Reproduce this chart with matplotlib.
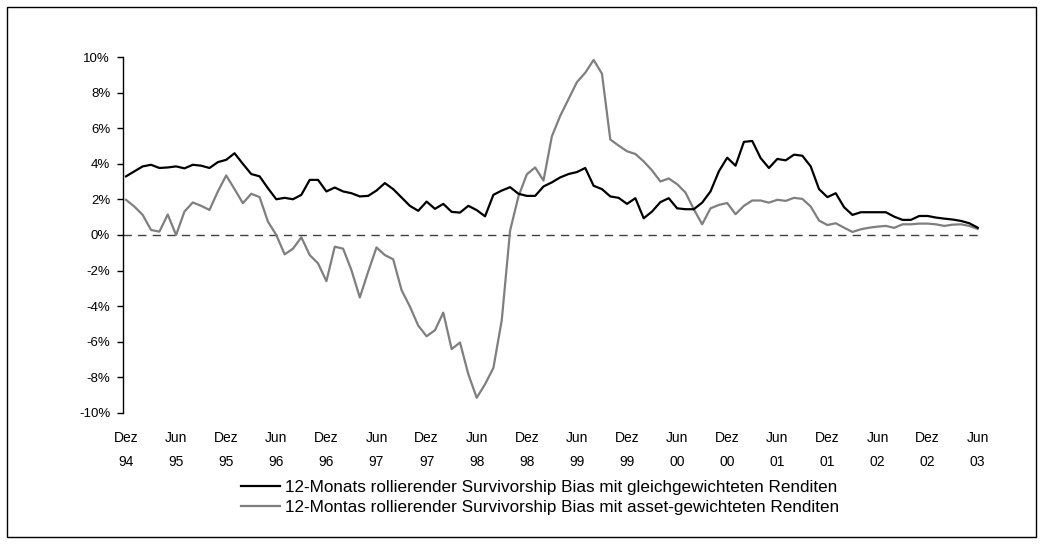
import matplotlib
matplotlib.use("Agg")
import matplotlib.pyplot as plt
from matplotlib.patches import Rectangle
from matplotlib.ticker import FuncFormatter, MultipleLocator

plt.rcParams['font.family'] = ['Liberation Sans', 'DejaVu Sans']

# monthly values, Dez 94 ... Jun 03 (in %)
gleich = [3.30, 3.58, 3.86, 3.95, 3.77, 3.80, 3.86, 3.75, 3.95, 3.90, 3.77, 4.10, 4.23, 4.60, 4.00,
          3.43, 3.30, 2.63, 2.01, 2.09, 2.01, 2.26, 3.10, 3.10, 2.45, 2.67, 2.45, 2.35, 2.17, 2.20,
          2.50, 2.92, 2.58, 2.11, 1.64, 1.36, 1.88, 1.47, 1.75, 1.30, 1.26, 1.64, 1.40, 1.05, 2.26,
          2.50, 2.69, 2.32, 2.20, 2.20, 2.73, 2.96, 3.24, 3.43, 3.54, 3.77, 2.77, 2.58, 2.17, 2.09,
          1.75, 2.07, 0.94, 1.32, 1.85, 2.07, 1.50, 1.45, 1.45, 1.82, 2.45, 3.58, 4.35, 3.90, 5.24,
          5.29, 4.33, 3.77, 4.28, 4.20, 4.52, 4.46, 3.86, 2.58, 2.13, 2.35, 1.56, 1.13, 1.28, 1.28,
          1.28, 1.28, 1.03, 0.85, 0.85, 1.07, 1.07, 0.98, 0.92, 0.87, 0.79, 0.66, 0.41]

asset = [1.98, 1.60, 1.13, 0.28, 0.19, 1.15, 0.00, 1.32, 1.83, 1.64, 1.41, 2.45, 3.35, 2.58, 1.79,
         2.32, 2.13, 0.75, 0.00, -1.09, -0.77, -0.13, -1.13, -1.60, -2.60, -0.66, -0.77, -1.98, -3.52, -2.07,
         -0.70, -1.13, -1.37, -3.10, -4.03, -5.10, -5.70, -5.36, -4.37, -6.42, -6.05, -7.84, -9.16, -8.40, -7.48,
         -4.80, 0.25, 2.17, 3.41, 3.80, 3.06, 5.55, 6.70, 7.65, 8.60, 9.13, 9.85, 9.08, 5.37, 5.03,
         4.71, 4.56, 4.14, 3.63, 3.01, 3.18, 2.86, 2.39, 1.45, 0.60, 1.50, 1.69, 1.80, 1.17, 1.64,
         1.94, 1.94, 1.82, 1.98, 1.92, 2.09, 2.03, 1.60, 0.81, 0.56, 0.66, 0.41, 0.17, 0.32, 0.41,
         0.47, 0.51, 0.40, 0.60, 0.60, 0.64, 0.64, 0.60, 0.51, 0.58, 0.60, 0.51, 0.34]

tick_labels = ["Dez\n94", "Jun\n95", "Dez\n95", "Jun\n96", "Dez\n96", "Jun\n97", "Dez\n97", "Jun\n98",
               "Dez\n98", "Jun\n99", "Dez\n99", "Jun\n00", "Dez\n00", "Jun\n01", "Dez\n01", "Jun\n02",
               "Dez\n02", "Jun\n03"]

label_gleich = "12-Monats rollierender Survivorship Bias mit gleichgewichteten Renditen"
label_asset = "12-Montas rollierender Survivorship Bias mit asset-gewichteten Renditen"

fig = plt.figure(figsize=(10.43, 5.44), dpi=100)
ax = fig.add_axes([0.1176, 0.2414, 0.823, 0.6533])

x = list(range(len(gleich)))
ax.axhline(0, color='#404040', lw=1.0, ls=(0, (6, 4.5)), zorder=1)
l1, = ax.plot(x, gleich, color='black', lw=1.6, label=label_gleich, zorder=3)
l2, = ax.plot(x, asset, color='#7f7f7f', lw=1.6, label=label_asset, zorder=2)

ax.set_xlim(-0.4, len(gleich) - 1 + 0.4)
ax.set_ylim(-10, 10)
ax.yaxis.set_major_locator(MultipleLocator(2))
ax.yaxis.set_major_formatter(FuncFormatter(lambda v, p: f"{v:.0f}%"))
ax.set_xticks(range(0, len(gleich), 6))
ax.set_xticklabels(tick_labels, linespacing=1.95)
ax.tick_params(axis='x', length=0, pad=13, labelsize=10)
ax.tick_params(axis='y', length=4, width=1, direction='out', pad=5, labelsize=9.5)

for s in ['top', 'right', 'bottom']:
    ax.spines[s].set_visible(False)
ax.spines['left'].set_linewidth(1.0)

leg = fig.legend(handles=[l1, l2], loc='upper center', frameon=False,
                 fontsize=12.3, handlelength=2.3, handletextpad=0.3, labelspacing=0.3,
                 borderpad=0.2)
leg.set_bbox_to_anchor((0.518, 1 - 468 / 544), transform=fig.transFigure)

fig.add_artist(Rectangle((7 / 1043, 7 / 544), 1 - 14 / 1043, 1 - 14 / 544, transform=fig.transFigure,
                         fill=False, edgecolor='black', lw=1.0))

fig.savefig("out.png", dpi=100)
